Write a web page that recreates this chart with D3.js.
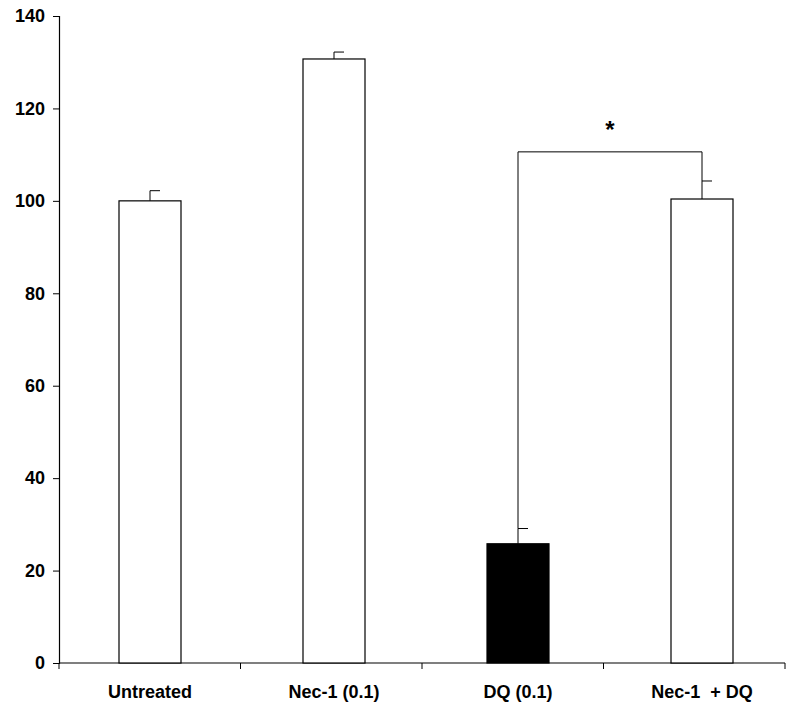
<!DOCTYPE html>
<html><head><meta charset="utf-8">
<script src="https://cdn.jsdelivr.net/npm/d3@7"></script>
<style>body{margin:0;background:#fff}text{font-family:"Liberation Sans",Arial,sans-serif;font-weight:bold;white-space:pre}</style>
</head><body><svg id="c" width="796" height="708"></svg>
<script>
var categories = ['Untreated', 'Nec-1 (0.1)', 'DQ (0.1)', 'Nec-1  + DQ'];
var values = [100, 130.7, 25.8, 100.4];
var errors = [2.2, 1.5, 3.3, 3.9];
var fills = ['#fff', '#fff', '#000', '#fff'];
var yTicks = [0, 20, 40, 60, 80, 100, 120, 140];
var bracketLevel = 110.6;

var svg = d3.select('#c');
var x0 = 59, x1 = 785, yBase = 663;
var y = d3.scaleLinear().domain([0, 140]).range([yBase, 16]);
var x = d3.scalePoint().domain(categories).range([150, 702]);
var bw = 62;

svg.append('g').attr('transform', 'translate(' + x0 + ',0)')
  .call(d3.axisLeft(y).tickValues(yTicks).tickSize(6).tickPadding(8))
  .call(function(g) {
    g.select('.domain').attr('stroke', '#000').attr('stroke-width', 1.2);
    g.selectAll('text').style('font-size', '18px').style('font-family', 'Liberation Sans, Arial').style('font-weight', 'bold');
  });

svg.append('line').attr('x1', x0).attr('x2', x1).attr('y1', yBase).attr('y2', yBase).attr('stroke', '#000').attr('stroke-width', 1.2);
var step = (x1 - x0) / 4;
for (var i = 0; i <= 4; i++) {
  svg.append('line').attr('x1', x0 + step * i).attr('x2', x0 + step * i).attr('y1', yBase).attr('y2', yBase + 6).attr('stroke', '#000');
}

var g = svg.selectAll('.bar').data(categories).enter().append('g');
g.append('line')
  .attr('x1', function(d) { return x(d); }).attr('x2', function(d) { return x(d); })
  .attr('y1', function(d, i) { return y(values[i]); })
  .attr('y2', function(d, i) { return y(values[i] + errors[i]); })
  .attr('stroke', '#000');
g.append('line')
  .attr('x1', function(d) { return x(d); }).attr('x2', function(d) { return x(d) + 10; })
  .attr('y1', function(d, i) { return y(values[i] + errors[i]); })
  .attr('y2', function(d, i) { return y(values[i] + errors[i]); })
  .attr('stroke', '#000');
g.append('rect')
  .attr('x', function(d) { return x(d) - bw / 2; }).attr('width', bw)
  .attr('y', function(d, i) { return y(values[i]); })
  .attr('height', function(d, i) { return yBase - y(values[i]); })
  .attr('fill', function(d, i) { return fills[i]; })
  .attr('stroke', '#000').attr('stroke-width', 1.2);
g.append('text')
  .attr('x', function(d) { return x(d); }).attr('y', 698)
  .attr('text-anchor', 'middle').style('font-size', '18px').text(function(d) { return d; });

var a = x(categories[2]), b = x(categories[3]);
svg.append('path')
  .attr('d', 'M' + a + ',' + y(values[2] + errors[2]) + 'V' + y(bracketLevel) + 'H' + b + 'V' + y(values[3] + errors[3]))
  .attr('fill', 'none').attr('stroke', '#000');
svg.append('text').attr('x', (a + b) / 2).attr('y', y(bracketLevel) - 14)
  .attr('text-anchor', 'middle').style('font-size', '24px').text('*');
</script></body></html>
